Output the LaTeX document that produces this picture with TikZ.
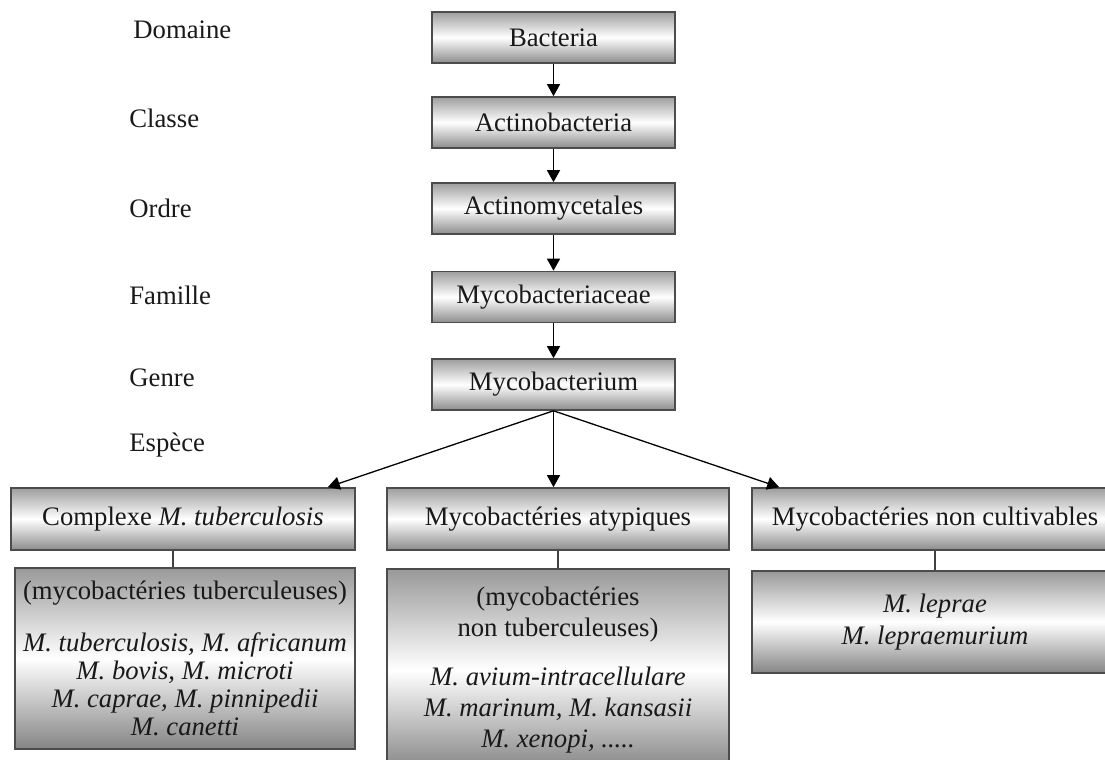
\documentclass[tikz,border=0pt]{standalone}
\usepackage{fontspec}
\setmainfont{Liberation Serif}
\usetikzlibrary{arrows.meta, calc}

\begin{document}
\begin{tikzpicture}[x=0.5pt, y=-0.5pt]

    % Serif text
    \fontsize{13.35}{16}\selectfont

    % Frame
    \useasboundingbox (0, 0) rectangle (1105, 760);
    \clip (0, 0) rectangle (1105, 760);
    \path[fill=white] (0, 0) rectangle (1105, 760);

    % Rank labels
    \tikzset{rk/.style={anchor=west, inner sep=0pt, text=black!90}}

    % Shaded boxes
    \tikzset{bX/.style={draw=black!70, line width=0.8pt, inner sep=0pt, text=black!90}}
    \tikzset{tB/.style={bX, top color=black!38, bottom color=black!45, middle color=white, minimum width=121.5pt, minimum height=25.5pt}}
    \tikzset{gB/.style={bX, top color=black!38, bottom color=black!45, middle color=white, minimum height=31pt}}
    \tikzset{lB/.style={bX, top color=black!40, bottom color=black!48, middle color=white, align=center}}

    % Links
    \tikzset{aR/.style={-{Triangle[width=6.5pt, length=6pt]}, line width=0.65pt, draw=black}}
    \tikzset{cN/.style={draw=black!75, line width=0.6pt}}

    % Ranks
    \node (dom) [rk] at (133, 30) {Domaine};
    \node (cls) [rk] at (129, 118) {Classe};
    \node (ord) [rk] at (129, 208) {Ordre};
    \node (fam) [rk] at (129, 295) {Famille};
    \node (gen) [rk] at (129, 378) {Genre};
    \node (esp) [rk] at (129, 445) {Espèce};

    % Taxa
    \node (bact) [tB] at (553.5, 37.5) {Bacteria};
    \node (actb) [tB] at (553.5, 122.5) {Actinobacteria};
    \node (actm) [tB] at (553.5, 208.5) {Actinomycetales};
    \node (mycf) [tB] at (553.5, 297) {Mycobacteriaceae};
    \node (mycg) [tB] at (553.5, 384.5) {Mycobacterium};

    % Groups
    \node (cplx) [gB, minimum width=172pt] at (183, 519) {Complexe \textit{M. tuberculosis}};
    \node (atyp) [gB, minimum width=171pt] at (558, 519) {Mycobactéries atypiques};
    \node (ncul) [gB, minimum width=183pt] at (935, 519) {Mycobactéries non cultivables};

    % Species lists
    \node (lcplx) [lB, minimum width=170pt, minimum height=90.5pt, font=\fontsize{13.35}{14}\selectfont] at (185, 658.5)
        {(mycobactéries tuberculeuses)\\[12pt]
         \textit{M. tuberculosis, M. africanum}\\
         \textit{M. bovis, M. microti}\\
         \textit{M. caprae, M. pinnipedii}\\
         \textit{M. canetti}};
    \node (latyp) [lB, minimum width=171pt, minimum height=101pt, font=\fontsize{13.35}{15.5}\selectfont] at (558, 670)
        {(mycobactéries\\
         non tuberculeuses)\\[9pt]
         \textit{M. avium-intracellulare}\\
         \textit{M. marinum, M. kansasii}\\
         \textit{M. xenopi, .....}};
    \node (lncul) [lB, minimum width=183pt, minimum height=51pt, font=\fontsize{13.35}{16}\selectfont] at (935, 622)
        {\textit{M. leprae}\\
         \textit{M. lepraemurium}};

    % Classification arrows
    \draw[aR] (bact) -- (actb);
    \draw[aR] (actb) -- (actm);
    \draw[aR] (actm) -- (mycf);
    \draw[aR] (mycf) -- (mycg);
    \draw[aR] (mycg.south) -- ([xshift=-14pt]cplx.north east);
    \draw[aR] (mycg.south) -- (mycg.south |- atyp.north);
    \draw[aR] (mycg.south) -- ([xshift=14pt]ncul.north west);

    % Group to list
    \path[cN] ([xshift=-5pt]cplx.south) coordinate (c1) -- (c1 |- lcplx.north);
    \path[cN] (atyp.south) -- (atyp.south |- latyp.north);
    \path[cN] (ncul.south) -- (ncul.south |- lncul.north);

\end{tikzpicture}
\end{document}
